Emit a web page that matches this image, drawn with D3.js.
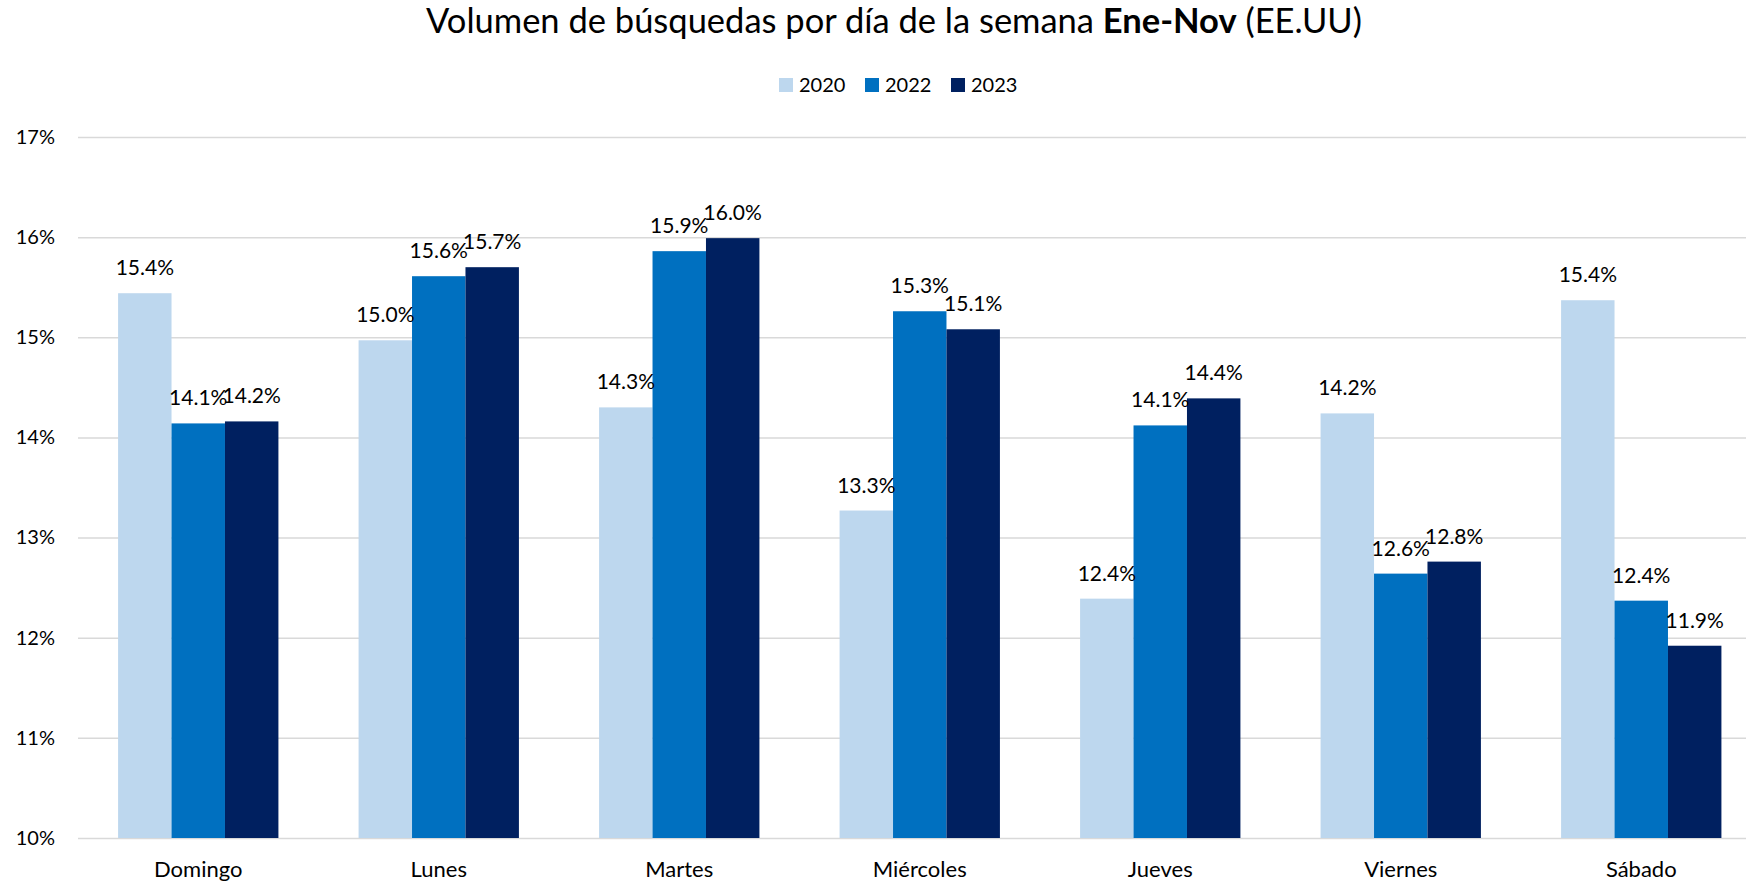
<!DOCTYPE html>
<html>
<head>
<meta charset="utf-8">
<script src="https://cdn.jsdelivr.net/npm/d3@7"></script>
<style>
  html, body { margin: 0; padding: 0; background: #fff; }
  svg { display: block; font-family: Lato, "Open Sans", sans-serif; }
</style>
</head>
<body>
<svg id="chart" width="1746" height="883"></svg>
<script>
// Days of the week (categories)
const days = ["Domingo", "Lunes", "Martes", "Miércoles", "Jueves", "Viernes", "Sábado"];
// Series names
const years = ["2020", "2022", "2023"];
// Share of weekly search volume, percent
const values2020 = [15.44, 14.97, 14.30, 13.27, 12.39, 14.24, 15.37];
const values2022 = [14.14, 15.61, 15.86, 15.26, 14.12, 12.64, 12.37];
const values2023 = [14.16, 15.70, 15.99, 15.08, 14.39, 12.76, 11.92];
// Y axis ticks, percent
const yTicks = [10, 11, 12, 13, 14, 15, 16, 17];
const seriesColors = ["#BDD7EE", "#0070C0", "#002060"];

const series = [values2020, values2022, values2023];

const svg = d3.select("#chart");

const plot = { left: 78, right: 1761.5, top: 137, bottom: 838 };

const x = d3.scaleBand()
  .domain(days)
  .range([plot.left, plot.right])
  .paddingInner(0)
  .paddingOuter(0);

// Bars fill the band with a gap of 1.5 bar widths between groups
const barW = x.bandwidth() / (years.length + 1.5);
const x1 = d3.scaleBand()
  .domain(years)
  .range([0, barW * years.length]);
const groupOffset = (x.bandwidth() - barW * years.length) / 2;

const y = d3.scaleLinear()
  .domain([10, 17])
  .range([plot.bottom, plot.top]);

// Horizontal gridlines
const yAxis = d3.axisLeft(y)
  .tickValues(yTicks)
  .tickSize(-(plot.right - plot.left))
  .tickFormat(d => d + "%")
  .tickPadding(23);

const gy = svg.append("g")
  .attr("transform", `translate(${plot.left},0)`)
  .call(yAxis);
gy.select(".domain").remove();
gy.selectAll(".tick line")
  .attr("stroke", "#d9d9d9")
  .attr("stroke-width", 1.5);
gy.selectAll(".tick text")
  .attr("fill", "#000")
  .attr("font-size", 20)
  .attr("font-family", "Lato, sans-serif");

// Category axis labels
const gx = svg.append("g")
  .attr("transform", `translate(0,${plot.bottom})`)
  .call(d3.axisBottom(x).tickSize(0).tickPadding(23));
gx.select(".domain").remove();
gx.selectAll(".tick text")
  .attr("fill", "#000")
  .attr("font-size", 22)
  .attr("font-family", "Lato, sans-serif");

// Bars
const groups = svg.append("g")
  .selectAll("g")
  .data(days)
  .join("g")
  .attr("transform", d => `translate(${x(d) + groupOffset},0)`);

groups.selectAll("rect")
  .data((d, i) => years.map((yr, j) => ({ yr, v: series[j][i], j })))
  .join("rect")
  .attr("x", d => x1(d.yr))
  .attr("y", d => y(d.v))
  .attr("width", x1.bandwidth())
  .attr("height", d => plot.bottom - y(d.v))
  .attr("fill", d => seriesColors[d.j]);

// Value labels above each bar
groups.selectAll("text.val")
  .data((d, i) => years.map((yr, j) => ({ yr, v: series[j][i], j })))
  .join("text")
  .attr("class", "val")
  .attr("x", d => x1(d.yr) + x1.bandwidth() / 2)
  .attr("y", d => y(d.v) - 18)
  .attr("text-anchor", "middle")
  .attr("font-size", 21)
  .attr("fill", "#000")
  .text(d => d3.format(".1f")(d.v) + "%");

// Title
const title = svg.append("text")
  .attr("x", 894)
  .attr("y", 33)
  .attr("text-anchor", "middle")
  .attr("font-size", 34.5)
  .attr("fill", "#000");
title.append("tspan").text("Volumen de búsquedas por día de la semana ");
title.append("tspan").attr("font-weight", "bold").text("Ene-Nov");
title.append("tspan").text(" (EE.UU)");

// Legend
const legend = svg.append("g");
const legendX = [779, 865, 951];
years.forEach((yr, j) => {
  legend.append("rect")
    .attr("x", legendX[j])
    .attr("y", 78)
    .attr("width", 14)
    .attr("height", 14)
    .attr("fill", seriesColors[j]);
  legend.append("text")
    .attr("x", legendX[j] + 20)
    .attr("y", 92)
    .attr("font-size", 20)
    .attr("fill", "#000")
    .text(yr);
});
</script>
</body>
</html>
